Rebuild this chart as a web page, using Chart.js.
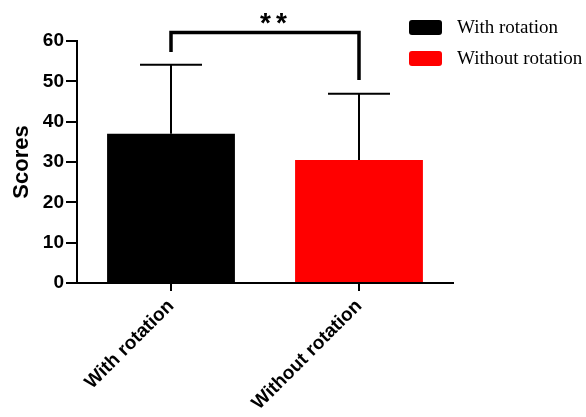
<!DOCTYPE html>
<html>
<head>
<meta charset="utf-8">
<script src="https://cdn.jsdelivr.net/npm/chart.js@4/dist/chart.umd.min.js"></script>
<style>
  html, body { margin: 0; padding: 0; background: #fff; }
  #wrap { width: 586px; height: 417px; }
</style>
</head>
<body>
<div id="wrap"><canvas id="c" width="586" height="417"></canvas></div>
<script>
// Groups and their mean scores with standard deviation
const categories = ['With rotation', 'Without rotation'];
const means = [37.0, 30.5];
const sds = [17.1, 16.4];
const colors = ['#000000', '#ff0000'];
const yTicks = [0, 10, 20, 30, 40, 50, 60];
const significance = '**';

const datasets = categories.map((name, i) => ({
  label: name,
  data: categories.map((_, j) => (i === j ? means[i] : null)),
  backgroundColor: colors[i],
  borderWidth: 0,
  barPercentage: 0.68,
  categoryPercentage: 1.0,
  skipNull: true
}));

// Upper error whiskers, significance bracket and a boxed legend
const annotations = {
  id: 'annotations',
  afterDatasetsDraw(chart) {
    const { ctx, scales: { x, y } } = chart;
    ctx.save();
    ctx.strokeStyle = '#000';
    ctx.lineCap = 'butt';

    // error bars
    ctx.lineWidth = 2;
    means.forEach((m, i) => {
      const cx = x.getPixelForValue(i);
      const y0 = y.getPixelForValue(m);
      const y1 = y.getPixelForValue(m + sds[i]);
      ctx.beginPath();
      ctx.moveTo(cx, y0);
      ctx.lineTo(cx, y1);
      ctx.moveTo(cx - 31, y1);
      ctx.lineTo(cx + 31, y1);
      ctx.stroke();
    });

    // significance bracket
    const xl = x.getPixelForValue(0);
    const xr = x.getPixelForValue(1);
    const yTop = y.getPixelForValue(62.1);
    const yL = y.getPixelForValue(57.3);
    const yR = y.getPixelForValue(50.3);
    ctx.lineWidth = 3.5;
    ctx.lineJoin = 'miter';
    ctx.beginPath();
    ctx.moveTo(xl, yL);
    ctx.lineTo(xl, yTop);
    ctx.lineTo(xr, yTop);
    ctx.lineTo(xr, yR);
    ctx.stroke();
    ctx.fillStyle = '#000';
    ctx.font = 'bold 28px "Liberation Sans", Arial, sans-serif';
    ctx.letterSpacing = '5px';
    ctx.textAlign = 'center';
    ctx.textBaseline = 'alphabetic';
    ctx.fillText(significance, (xl + xr) / 2 + 11, 32);
    ctx.letterSpacing = '0px';

    // legend
    ctx.font = '19px "Liberation Serif", "Times New Roman", serif';
    ctx.textAlign = 'left';
    ctx.textBaseline = 'middle';
    chart.data.datasets.forEach((ds, i) => {
      const top = 20 + i * 31;
      ctx.fillStyle = ds.backgroundColor;
      ctx.beginPath();
      ctx.roundRect(409, top, 33, 15, 3);
      ctx.fill();
      ctx.fillStyle = '#000';
      ctx.fillText(ds.label, 457, top + 8);
    });
    ctx.restore();
  }
};

new Chart(document.getElementById('c'), {
  type: 'bar',
  data: { labels: categories, datasets },
  options: {
    responsive: false,
    animation: false,
    devicePixelRatio: 1,
    layout: { padding: { top: 41, right: 133, left: 0, bottom: 0 } },
    plugins: { legend: { display: false }, tooltip: { enabled: false } },
    scales: {
      x: {
        offset: true,
        grid: { offset: false, drawOnChartArea: false, drawTicks: true, tickLength: 8, color: '#000', lineWidth: 2 },
        border: { display: true, color: '#000', width: 2 },
        ticks: {
          color: '#000',
          font: { family: '"Liberation Sans", Arial, sans-serif', size: 19, weight: 'bold' },
          minRotation: 45, maxRotation: 45, padding: 4
        },
        afterFit(scale) { scale.height = 134; }
      },
      y: {
        min: 0, max: 60,
        afterBuildTicks(scale) { scale.ticks = yTicks.map(v => ({ value: v })); },
        grid: { drawOnChartArea: false, drawTicks: true, tickLength: 11, color: '#000', lineWidth: 2 },
        border: { display: true, color: '#000', width: 2 },
        ticks: {
          color: '#000',
          font: { family: '"Liberation Sans", Arial, sans-serif', size: 19, weight: 'bold' },
          padding: 2
        },
        title: {
          display: true, text: 'Scores', color: '#000',
          font: { family: '"Liberation Sans", Arial, sans-serif', size: 22, weight: 'bold' },
          padding: { top: 9, bottom: 0 }
        },
        afterFit(scale) { scale.width = 77; }
      }
    }
  },
  plugins: [annotations]
});
</script>
</body>
</html>
